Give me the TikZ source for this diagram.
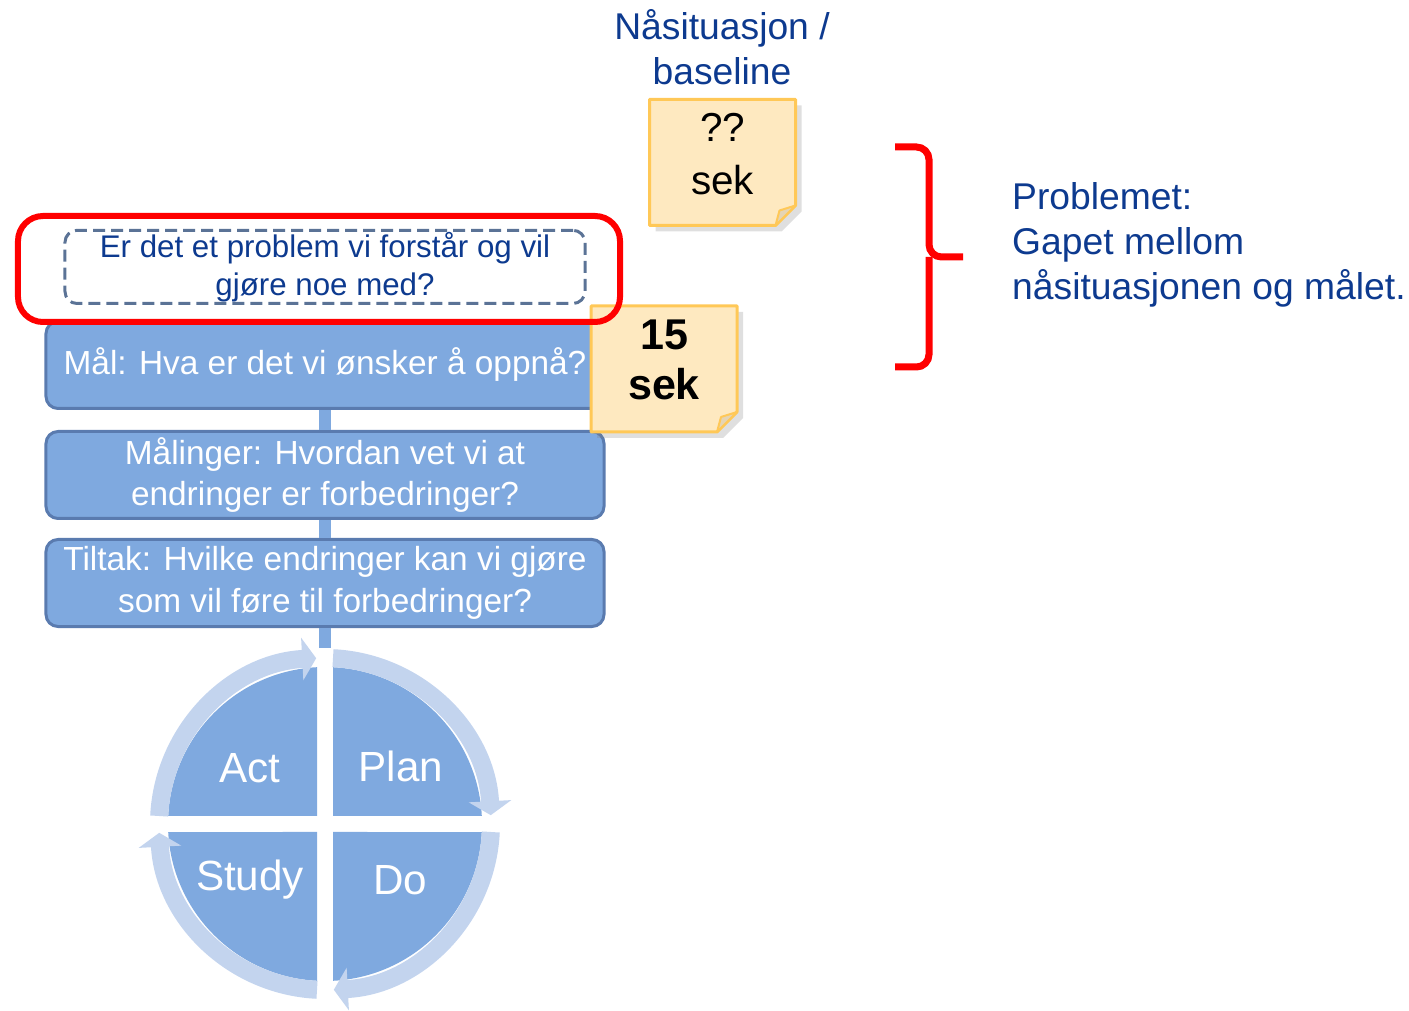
\documentclass[tikz,border=0pt]{standalone}
\usepackage{fontspec}
\setmainfont{Liberation Sans}
\usetikzlibrary{arrows.meta,positioning,shadows}
\definecolor{pdsblue}{HTML}{7FA9DF}
\definecolor{pdsline}{HTML}{5A7BAF}
\definecolor{pdsring}{HTML}{C3D4EE}
\definecolor{pdsdark}{HTML}{0D3A8F}
\definecolor{pdsdash}{HTML}{5B7396}
\definecolor{notefill}{HTML}{FEE9C0}
\definecolor{noteline}{HTML}{FFC857}
\definecolor{hlred}{HTML}{FF0000}

\begin{document}
\begin{tikzpicture}[
    x=0.2mm, y=0.2mm,
    every node/.style={align=center},
    bluebox/.style={draw=pdsline, fill=pdsblue, line width=0.6mm, rounded corners=2.4mm, text=white,
        minimum width=11.16cm, minimum height=1.74cm, font=\fontsize{19}{23.5}\selectfont},
    problembox/.style={draw=pdsdash, dash pattern=on 2.4mm off 1.2mm, line width=0.6mm, rounded corners=2.4mm,
        minimum width=10.4cm, minimum height=1.45cm, inner sep=1pt, text=pdsdark, font=\fontsize{17.8}{21.6}\selectfont},
    highlight/.style={draw=hlred, line width=1.2mm, rounded corners=5mm, minimum width=12.04cm, minimum height=2.12cm},
    stem/.style={pdsblue, line width=2.4mm},
    ring/.style={pdsring, line width=3.6mm, -{Triangle[length=2.8mm, width=8.4mm]}},
    cyclelabel/.style={text=white, font=\fontsize{24}{28}\selectfont},
    notebody/.style={draw=noteline, fill=notefill, line width=0.6mm, line join=round,
        drop shadow={shadow xshift=1.2mm, shadow yshift=-1.2mm, opacity=0.25}},
    notefold/.style={draw=noteline, fill=notefill!80!gray, line width=0.4mm, line join=round},
    header/.style={text=pdsdark, font=\fontsize{21.2}{25.6}\selectfont},
    brace/.style={hlred, line width=1.4mm, rounded corners=2.5mm}
]
    \useasboundingbox (0,0) rectangle (1409,1010);

    % question boxes
    \node[bluebox] (maal) at (325,645) {Mål: Hva er det vi ønsker å oppnå?};
    \node[bluebox, below=0.4cm of maal] (maalinger) {Målinger: Hvordan vet vi at\\endringer er forbedringer?};
    \node[bluebox, below=0.36cm of maalinger] (tiltak) {Tiltak: Hvilke endringer kan vi gjøre\\som vil føre til forbedringer?};
    \coordinate (cycletop) at (325,362);

    \draw[stem] (maal) -- (maalinger);
    \draw[stem] (maalinger) -- (tiltak);
    \draw[stem] (tiltak) -- (cycletop);

    % PDSA cycle
    \begin{scope}[shift={(325,186)}]
        \foreach \sx/\sy in {1/1,1/-1,-1/-1,-1/1}
            \fill[pdsblue, xscale=\sx, yscale=\sy] (8,8) -- (8,156.8) arc[start angle=87.08, end angle=2.92, radius=157] -- cycle;
        \foreach \a in {177.24,87.24,-2.76,-92.76}
            \draw[ring] (\a:166) arc[start angle=\a, delta angle=-84.2, radius=166];
        \node[cyclelabel] (act) at (-75,56) {Act};
        \node[cyclelabel] (plan) at (76,58) {Plan};
        \node[cyclelabel] (study) at (-75,-56) {Study};
        \node[cyclelabel] (do) at (75,-56) {Do};
    \end{scope}

    % sticky notes
    \foreach \px/\py in {722.5/847.5, 664/641} {
        \begin{scope}[shift={(\px,\py)}]
            \draw[notebody] (-73,63) -- (73,63) -- (73,-43) -- (53,-63) -- (-73,-63) -- cycle;
            \draw[notefold] (53,-63) -- (73,-43) -- (57,-48) -- cycle;
        \end{scope}
    }
    \node[font=\fontsize{23}{30}\selectfont] (nownote) at (722.5,856) {??\\sek};
    \node[font=\bfseries\fontsize{24.5}{28.5}\selectfont] (goalnote) at (664,650) {15\\sek};

    \node[problembox, above=0.3cm of maal] (problem) {Er det et problem vi forstår og vil\\gjøre noe med?};
    \node[highlight] (focus) at (319,741) {};

    % gap brace
    \draw[brace] (895,863) -| (929,753) -- (963,753);
    \draw[brace] (895,643) -| (929,753);

    \node[header] (nowtitle) at (722,963) {Nåsituasjon /\\baseline};
    \node[header, align=left, anchor=west] (gaptext) at (1006,765) {Problemet:\\Gapet mellom\\nåsituasjonen og målet.};
\end{tikzpicture}
\end{document}
